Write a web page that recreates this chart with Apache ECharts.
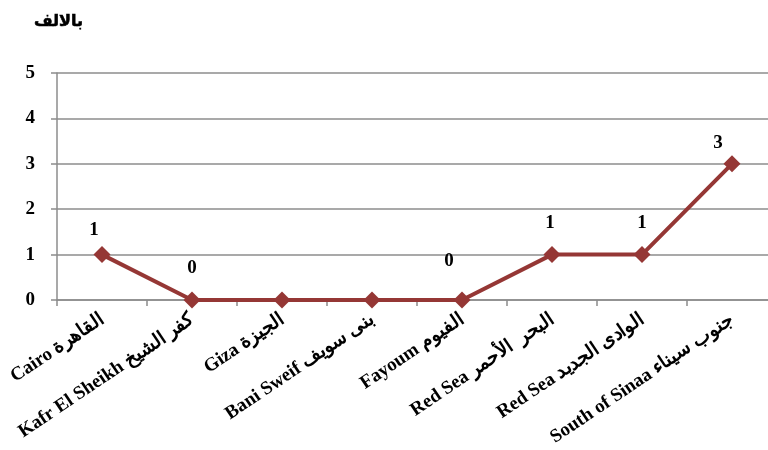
<!DOCTYPE html>
<html>
<head>
<meta charset="utf-8">
<script src="https://cdn.jsdelivr.net/npm/echarts@6/dist/echarts.min.js"></script>
<style>html,body{margin:0;padding:0;background:#fff}#c{width:768px;height:450px}</style>
</head>
<body>
<div id="c"></div>
<script>
var categoriesEn = ['Cairo', 'Kafr El Sheikh', 'Giza', 'Bani Sweif', 'Fayoum', 'Red Sea', 'Red Sea', 'South of Sinaa'];
var categoriesAr = ['القاهرة', 'كفر الشيخ', 'الجيزة', 'بنى سويف', 'الفيوم', 'البحر  الأحمر', 'الوادى الجديد', 'جنوب سيناء'];
var values = [1, 0, 0, 0, 0, 1, 1, 3];
var showLabel = [true, true, false, false, true, true, true, true];
var yTicks = [0, 1, 2, 3, 4, 5];
var unitTitle = 'بالالف';

var labelOffsets = [[-8, -3], [0, -10], [0, 0], [0, 0], [-13, -17], [-2, -10], [0, -10], [-14, 1]];

var categories = categoriesEn.map(function (e, i) { return e + ' ' + categoriesAr[i]; });
var serif = "'Liberation Serif', 'Times New Roman', serif";

var chart = echarts.init(document.getElementById('c'));
chart.setOption({
  animation: false,
  title: {
    text: unitTitle,
    left: 29, top: 9,
    textStyle: { fontSize: 16, fontWeight: 'bold', color: '#000', fontFamily: "'DejaVu Sans', 'Noto Sans', sans-serif", textBorderColor: '#000', textBorderWidth: 0.6 }
  },
  grid: { left: 57, top: 73, width: 720, height: 227, outerBoundsMode: 'none', containLabel: false },
  xAxis: {
    type: 'category',
    data: categories,
    boundaryGap: true,
    axisLine: { lineStyle: { color: '#8c8c8c', width: 1.5 } },
    axisTick: { show: true, length: 6, lineStyle: { color: '#8c8c8c', width: 1.5 } },
    axisLabel: {
      rotate: 34, margin: 18, interval: 0,
      fontSize: 19, fontWeight: 'bold', color: '#000', fontFamily: serif
    },
    splitLine: { show: false }
  },
  yAxis: {
    type: 'value',
    min: yTicks[0], max: yTicks[yTicks.length - 1], interval: 1,
    axisLine: { show: true, lineStyle: { color: '#8c8c8c', width: 1.5 } },
    axisTick: { show: true, inside: false, length: 6, lineStyle: { color: '#8c8c8c', width: 1.5 } },
    axisLabel: { margin: 22, fontSize: 19, fontWeight: 'bold', color: '#000', fontFamily: serif },
    splitLine: { show: true, lineStyle: { color: '#8c8c8c', width: 1.5 } }
  },
  series: [{
    type: 'line',
    data: values.map(function (v, i) {
      return {
        value: v,
        label: { show: showLabel[i], offset: labelOffsets[i] }
      };
    }),
    symbol: 'diamond',
    symbolSize: 17,
    lineStyle: { color: '#953735', width: 4 },
    itemStyle: { color: '#953735' },
    label: {
      position: 'top', distance: 4,
      fontSize: 19, fontWeight: 'bold', color: '#000', fontFamily: serif
    }
  }]
});
</script>
</body>
</html>
